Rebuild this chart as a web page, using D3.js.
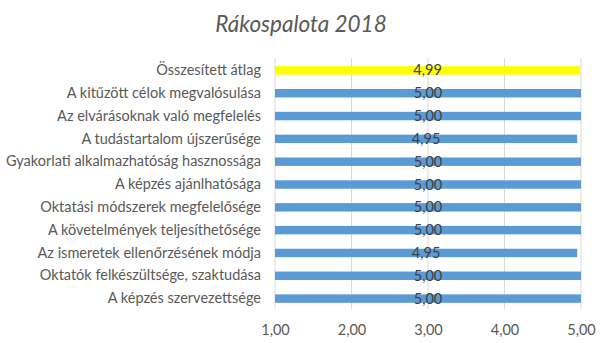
<!DOCTYPE html>
<html><head><meta charset="utf-8">
<script src="https://cdn.jsdelivr.net/npm/d3@7"></script>
<style>body{margin:0;background:#fff}svg{display:block}</style>
</head><body>
<script>
const title = "Rákospalota 2018";
const categories = [
  "Összesített átlag",
  "A kitűzött célok megvalósulása",
  "Az elvárásoknak való megfelelés",
  "A tudástartalom újszerűsége",
  "Gyakorlati alkalmazhatóság hasznossága",
  "A képzés ajánlhatósága",
  "Oktatási módszerek megfelelősége",
  "A követelmények teljesíthetősége",
  "Az ismeretek ellenőrzésének módja",
  "Oktatók felkészültsége, szaktudása",
  "A képzés szervezettsége"
];
const values = [4.99, 5.00, 5.00, 4.95, 5.00, 5.00, 5.00, 5.00, 4.95, 5.00, 5.00];
const tickValues = [1, 2, 3, 4, 5];

const W = 600, H = 343;
const fmt = v => d3.format(".2f")(v).replace(".", ",");
const font = "Lato, 'Open Sans', sans-serif";

const svg = d3.select("body").append("svg").attr("width", W).attr("height", H);

const x = d3.scaleLinear().domain([1, 5]).range([275, 581]);
const y = d3.scaleBand().domain(categories).range([59, 310]).paddingInner(0.63).paddingOuter(0.315);

svg.append("text").attr("x", 301).attr("y", 32).attr("text-anchor", "middle")
  .attr("font-family", font).attr("font-style", "italic").attr("font-size", 22.5)
  .attr("fill", "#595959").text(title);

// gridlines
svg.append("g").selectAll("line").data(tickValues).join("line")
  .attr("x1", d => x(d)).attr("x2", d => x(d))
  .attr("y1", 58).attr("y2", 309)
  .attr("stroke", "#d9d9d9").attr("stroke-width", 1);

// bars
svg.append("g").selectAll("rect").data(categories).join("rect")
  .attr("x", x(1))
  .attr("y", d => y(d))
  .attr("width", (d, i) => x(values[i]) - x(1))
  .attr("height", y.bandwidth())
  .attr("fill", (d, i) => i === 0 ? "#ffff00" : "#5b9bd5");

// data labels
svg.append("g").selectAll("text").data(categories).join("text")
  .attr("x", (d, i) => (x(1) + x(values[i])) / 2)
  .attr("y", d => y(d) + y.bandwidth() / 2 + 5)
  .attr("text-anchor", "middle")
  .attr("font-family", font).attr("font-size", 14.5)
  .attr("fill", "#404040")
  .text((d, i) => fmt(values[i]));

// category axis
const yAxis = d3.axisLeft(y).tickSize(0).tickPadding(14);
const gy = svg.append("g").attr("transform", `translate(${x(1)},0)`).call(yAxis);
gy.select(".domain").remove();
gy.selectAll("text").attr("font-family", font).attr("font-size", 14.5).attr("fill", "#595959");

// value axis
const xAxis = d3.axisBottom(x).tickValues(tickValues).tickFormat(fmt).tickSize(0).tickPadding(15);
const gx = svg.append("g").attr("transform", `translate(0,310)`).call(xAxis);
gx.select(".domain").remove();
gx.selectAll("text").attr("font-family", font).attr("font-size", 14.5).attr("fill", "#595959");
</script>
</body></html>
